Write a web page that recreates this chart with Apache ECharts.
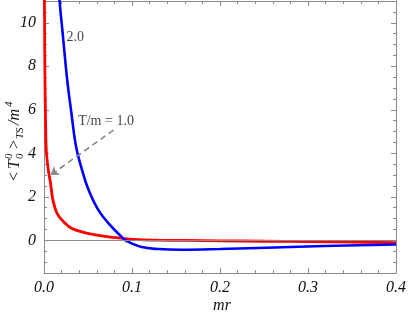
<!DOCTYPE html>
<html><head><meta charset="utf-8">
<script src="https://cdn.jsdelivr.net/npm/echarts@6/dist/echarts.min.js"></script>
<style>html,body{margin:0;padding:0;background:#fff}#c{width:409px;height:327px}</style>
</head><body><div id="c"></div>
<script>
// T/m = 1.0 (red)
const redX = [0.0004,0.0011,0.0018,0.0026,0.0049,0.0075,0.0102,0.015,0.0226,0.032,0.051,0.0697,0.092,0.107,0.13,0.16,0.2,0.25,0.3,0.35,0.4];
const redY = [11.6,7.4,5.5,4.15,3.23,2.61,1.84,1.23,0.84,0.54,0.31,0.18,0.08,0.03,0.01,-0.005,-0.02,-0.04,-0.06,-0.08,-0.1];
// T/m = 2.0 (blue)
const blueX = [0.0165,0.0177,0.0215,0.0263,0.031,0.0365,0.0433,0.0508,0.062,0.0754,0.0885,0.094,0.111,0.13,0.156,0.2,0.243,0.318,0.4];
const blueY = [11.8,11.0,9.4,7.4,5.9,4.3,3.23,2.3,1.38,0.69,0.15,-0.03,-0.31,-0.40,-0.43,-0.40,-0.35,-0.26,-0.19];
const xTicks = [0, 0.1, 0.2, 0.3, 0.4];
const yTickLabels = [0, 2, 4, 6, 8, 10];
const annotations = [[0.0356, 9.33, '2.0'], [0.0705, 5.46, 'T/m = 1.0']];
const arrowFrom = [0.079, 5.07];
const arrowTo = [0.0076, 3.0];

const pair = (xs, ys) => xs.map((x, i) => [x, ys[i]]);
const serif = 'Liberation Serif';
const frameCol = '#8a8a8a';
const chart = echarts.init(document.getElementById('c'));

function xAx(pos, labels) {
  return {
    type: 'value', position: pos, min: 0, max: 0.4, interval: 0.1,
    axisLine: {show: true, onZero: false, lineStyle: {color: frameCol, width: 1}},
    axisTick: {show: true, inside: true, length: 5, lineStyle: {color: frameCol}},
    minorTick: {show: true, splitNumber: 5, length: 3, lineStyle: {color: frameCol}},
    splitLine: {show: false},
    axisLabel: {show: labels, margin: 7, fontFamily: serif, fontStyle: 'italic', fontSize: 16, color: '#111',
      formatter: v => v.toFixed(1)}
  };
}
function yAx(pos, major, line, labels) {
  const a = {
    type: 'value', position: pos, min: -1.5, max: 11, interval: 0.5,
    axisLine: {show: line, onZero: false, lineStyle: {color: frameCol, width: 1}},
    axisTick: {show: true, inside: true, length: major ? 5 : 3, lineStyle: {color: frameCol}},
    splitLine: {show: false},
    axisLabel: {show: labels, margin: 8, fontFamily: serif, fontStyle: 'italic', fontSize: 16, color: '#111'}
  };
  if (major) a.axisTick.customValues = yTickLabels;
  if (labels) a.axisLabel.customValues = yTickLabels;
  return a;
}
const f = (sz) => 'italic ' + sz + 'px "Liberation Serif"';

chart.setOption({
  animation: false,
  backgroundColor: '#fff',
  grid: {left: 44, right: 11, top: 1, bottom: 54, containLabel: false},
  xAxis: [xAx('bottom', true), xAx('top', false)],
  yAxis: [yAx('left', true, true, true), yAx('left', false, false, false), yAx('right', true, true, false), yAx('right', false, false, false)],
  graphic: [
    {type: 'group', x: 15, y: 182, rotation: Math.PI / 2, children: [
      {type: 'text', x: 0, y: 0, style: {text: '<', font: f(16), fill: '#111', verticalAlign: 'middle'}},
      {type: 'text', x: 13, y: 0, style: {text: 'T', font: f(16), fill: '#111', verticalAlign: 'middle'}},
      {type: 'text', x: 23, y: -6, style: {text: '0', font: f(11), fill: '#111', verticalAlign: 'middle'}},
      {type: 'text', x: 23, y: 5, style: {text: '0', font: f(11), fill: '#111', verticalAlign: 'middle'}},
      {type: 'text', x: 32, y: 0, style: {text: '>', font: f(16), fill: '#111', verticalAlign: 'middle'}},
      {type: 'text', x: 43, y: 5, style: {text: 'TS', font: f(11), fill: '#111', verticalAlign: 'middle'}},
      {type: 'text', x: 57, y: 0, style: {text: '/m', font: f(16), fill: '#111', verticalAlign: 'middle'}},
      {type: 'text', x: 75, y: -6, style: {text: '4', font: f(11), fill: '#111', verticalAlign: 'middle'}}
    ]},
    {type: 'text', x: 222, y: 306, style: {text: 'mr', font: f(16), fill: '#111', align: 'center', verticalAlign: 'middle'}}
  ],
  series: [
    {type: 'line', data: [], z: 1, silent: true,
      markLine: {silent: true, symbol: 'none', label: {show: false}, lineStyle: {color: '#8a8a8a', width: 1, type: 'solid'},
        data: [{yAxis: 0}]}},
    {name: 'T/m = 1.0', type: 'line', data: pair(redX, redY), showSymbol: false, smooth: 0.4,
      lineStyle: {color: '#ff0000', width: 2.8}, z: 3},
    {name: 'T/m = 2.0', type: 'line', data: pair(blueX, blueY), showSymbol: false, smooth: 0.4,
      lineStyle: {color: '#0000ff', width: 2.6}, z: 4},
    {type: 'lines', coordinateSystem: 'cartesian2d', z: 5, silent: true,
      symbol: ['none', 'arrow'], symbolSize: 8,
      lineStyle: {color: '#888', width: 1.6, type: [6, 4], opacity: 1},
      data: [{coords: [arrowFrom, arrowTo]}]},
    {type: 'scatter', symbolSize: 0, z: 6, silent: true, data: annotations,
      label: {show: true, position: 'inside', formatter: p => p.data[2], fontFamily: serif, fontSize: 14, color: '#111'}}
  ]
});
</script></body></html>
